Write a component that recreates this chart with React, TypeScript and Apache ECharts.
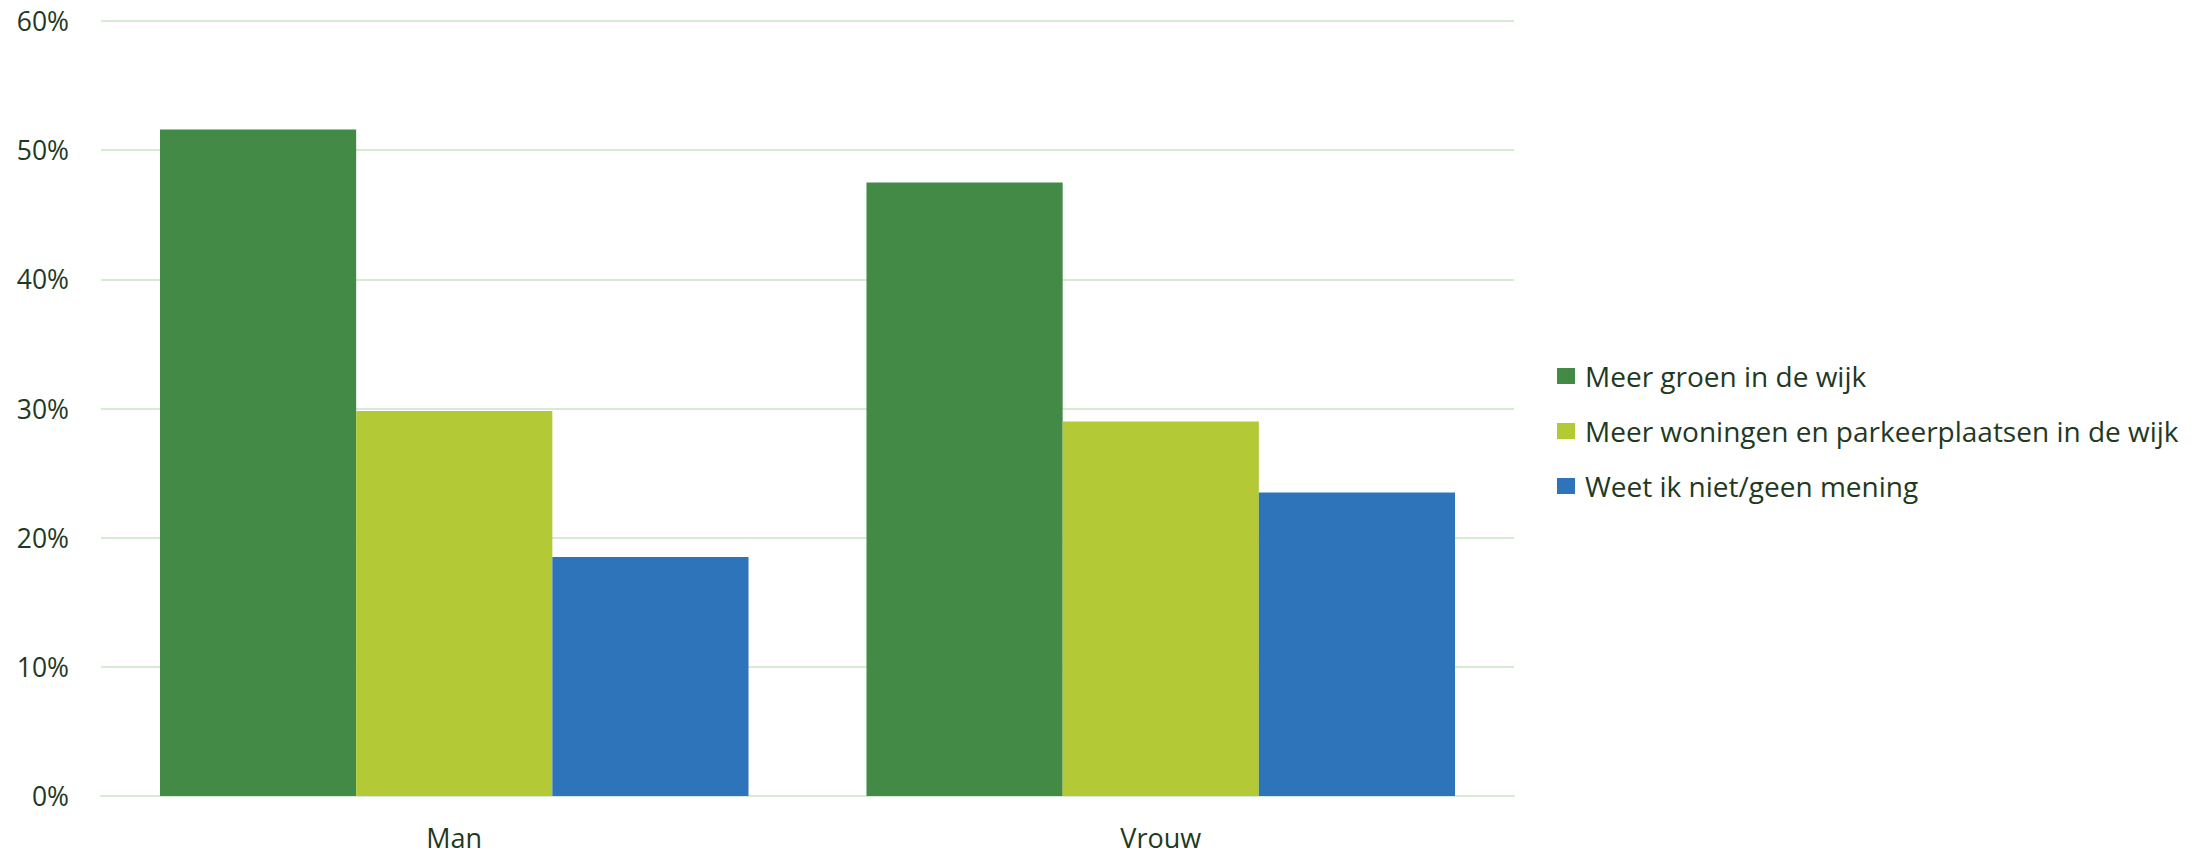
import React, { useEffect, useRef } from "react";
import * as echarts from "echarts";

const categories = ["Man", "Vrouw"];
const seriesNames = [
  "Meer groen in de wijk",
  "Meer woningen en parkeerplaatsen in de wijk",
  "Weet ik niet/geen mening",
];
const groenValues = [51.6, 47.5];
const woningenValues = [29.8, 29.0];
const weetNietValues = [18.5, 23.5];
const seriesColors = ["#428a46", "#b4c936", "#2e74bb"];
const yTicks = [0, 10, 20, 30, 40, 50, 60];

const FONT = "'Open Sans', 'Noto Sans', sans-serif";
const TEXT_COLOR = "#1f3a1f";
const GRID_COLOR = "#d5ebd3";

export default function App() {
  const ref = useRef<HTMLDivElement>(null);

  useEffect(() => {
    if (!ref.current) return;
    const chart = echarts.init(ref.current, undefined, { renderer: "svg" });
    const values = [groenValues, woningenValues, weetNietValues];
    chart.setOption({
      animation: false,
      backgroundColor: "#ffffff",
      textStyle: { fontFamily: FONT },
      grid: { left: 101, right: 694, top: 21, bottom: 56, containLabel: false },
      legend: {
        orient: "vertical",
        left: 1557,
        top: 362,
        padding: 0,
        itemWidth: 18,
        itemHeight: 16,
        itemGap: 27,
        icon: "rect",
        data: seriesNames,
        textStyle: {
          fontFamily: FONT,
          fontSize: 28,
          lineHeight: 28,
          color: TEXT_COLOR,
          padding: [0, 0, 0, 5],
        },
      },
      xAxis: {
        type: "category",
        data: categories,
        axisTick: { show: false },
        axisLine: { show: true, lineStyle: { color: GRID_COLOR, width: 2 } },
        axisLabel: {
          fontFamily: FONT,
          fontSize: 27,
          lineHeight: 27,
          color: TEXT_COLOR,
          margin: 28,
        },
      },
      yAxis: {
        type: "value",
        min: yTicks[0],
        max: yTicks[yTicks.length - 1],
        interval: 10,
        axisLine: { show: false },
        axisTick: { show: false },
        splitLine: { lineStyle: { color: GRID_COLOR, width: 2 } },
        axisLabel: {
          formatter: "{value}%",
          fontFamily: FONT,
          fontSize: 26.5,
          color: TEXT_COLOR,
          margin: 32,
        },
      },
      series: seriesNames.map((name, i) => ({
        name,
        type: "bar",
        data: values[i],
        barGap: "0%",
        barCategoryGap: "16.7%",
        itemStyle: { color: seriesColors[i] },
      })),
    });
    return () => chart.dispose();
  }, []);

  return (
    <div
      ref={ref}
      style={{ position: "fixed", left: 0, top: 0, width: 2208, height: 852 }}
    />
  );
}
